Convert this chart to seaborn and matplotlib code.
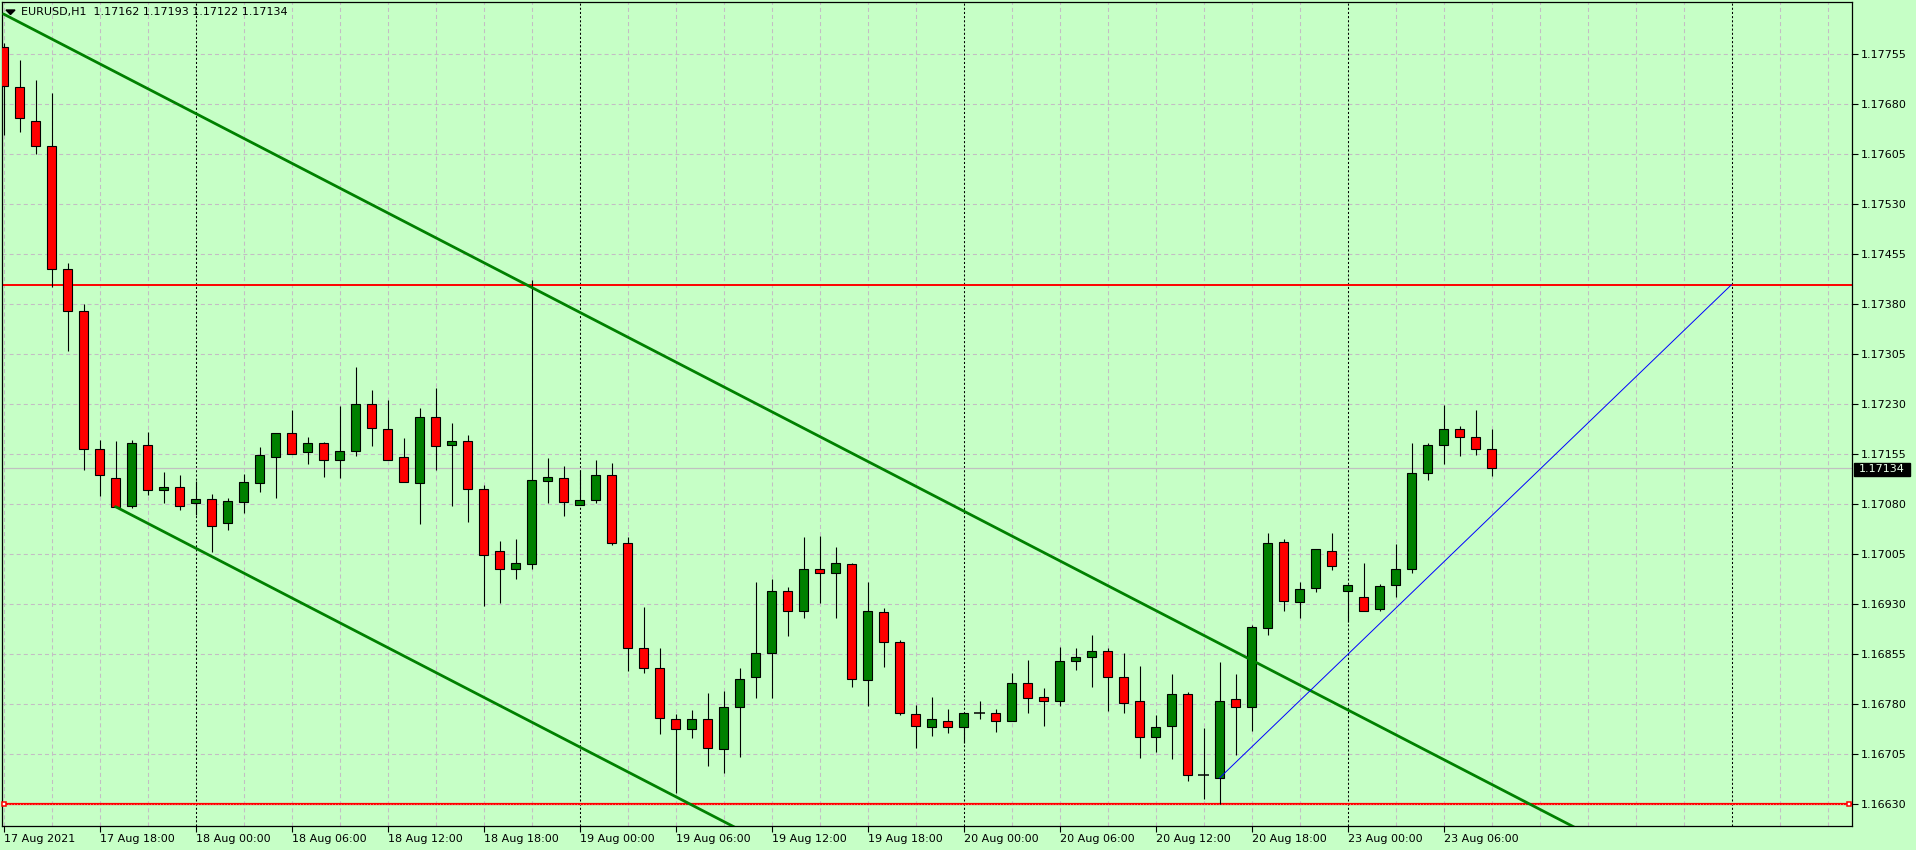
import matplotlib
matplotlib.use("Agg")
import matplotlib.pyplot as plt
from matplotlib.patches import Rectangle, Polygon
import seaborn as sns
import numpy as np
import pandas as pd

# ---------------- data (EURUSD H1, bar 0 = 17 Aug 2021 12:00) ----------------
opens = [1.17766, 1.17706, 1.17654, 1.17617, 1.17433, 1.17370, 1.17162, 1.17119, 1.17077, 1.17168,
         1.17101, 1.17106, 1.17081, 1.17087, 1.17051, 1.17083, 1.17111, 1.17151, 1.17186, 1.17158,
         1.17171, 1.17146, 1.17160, 1.17230, 1.17192, 1.17151, 1.17112, 1.17210, 1.17168, 1.17174,
         1.17103, 1.17009, 1.16983, 1.16990, 1.17114, 1.17119, 1.17078, 1.17086, 1.17123, 1.17021,
         1.16864, 1.16834, 1.16757, 1.16742, 1.16757, 1.16713, 1.16776, 1.16821, 1.16857, 1.16949,
         1.16920, 1.16983, 1.16977, 1.16990, 1.16816, 1.16918, 1.16873, 1.16765, 1.16745, 1.16755,
         1.16745, 1.16766, 1.16766, 1.16754, 1.16812, 1.16790, 1.16785, 1.16845, 1.16851, 1.16859,
         1.16821, 1.16784, 1.16731, 1.16747, 1.16795, 1.16673, 1.16669, 1.16787, 1.16775, 1.16894,
         1.17023, 1.16933, 1.16954, 1.17009, 1.16949, 1.16940, 1.16923, 1.16958, 1.16983, 1.17126,
         1.17168, 1.17192, 1.17180, 1.17162]
highs = [1.17772, 1.17746, 1.17716, 1.17696, 1.17441, 1.17380, 1.17176, 1.17175, 1.17176, 1.17188,
         1.17128, 1.17124, 1.17114, 1.17095, 1.17089, 1.17125, 1.17166, 1.17186, 1.17221, 1.17181,
         1.17173, 1.17227, 1.17286, 1.17251, 1.17236, 1.17179, 1.17224, 1.17254, 1.17201, 1.17183,
         1.17108, 1.17024, 1.17027, 1.17416, 1.17149, 1.17137, 1.17131, 1.17146, 1.17141, 1.17030,
         1.16925, 1.16864, 1.16765, 1.16771, 1.16797, 1.16799, 1.16834, 1.16963, 1.16968, 1.16955,
         1.17031, 1.17032, 1.17015, 1.16992, 1.16963, 1.16924, 1.16876, 1.16779, 1.16791, 1.16773,
         1.16766, 1.16785, 1.16772, 1.16827, 1.16846, 1.16804, 1.16866, 1.16864, 1.16883, 1.16864,
         1.16856, 1.16837, 1.16764, 1.16825, 1.16798, 1.16744, 1.16843, 1.16825, 1.16898, 1.17036,
         1.17027, 1.16963, 1.17012, 1.17036, 1.16958, 1.16991, 1.16960, 1.17020, 1.17171, 1.17171,
         1.17229, 1.17197, 1.17221, 1.17193]
lows = [1.17634, 1.17638, 1.17605, 1.17405, 1.17310, 1.17131, 1.17092, 1.17076, 1.17074, 1.17093,
        1.17082, 1.17071, 1.17064, 1.17008, 1.17041, 1.17067, 1.17098, 1.17089, 1.17155, 1.17140,
        1.17121, 1.17119, 1.17152, 1.17167, 1.17146, 1.17113, 1.17050, 1.17131, 1.17077, 1.17053,
        1.16927, 1.16932, 1.16968, 1.16983, 1.17081, 1.17062, 1.17078, 1.17081, 1.17019, 1.16830,
        1.16827, 1.16735, 1.16647, 1.16729, 1.16687, 1.16677, 1.16701, 1.16789, 1.16789, 1.16882,
        1.16909, 1.16932, 1.16909, 1.16806, 1.16777, 1.16836, 1.16763, 1.16714, 1.16732, 1.16737,
        1.16722, 1.16757, 1.16738, 1.16754, 1.16766, 1.16747, 1.16777, 1.16831, 1.16805, 1.16770,
        1.16766, 1.16699, 1.16708, 1.16697, 1.16664, 1.16638, 1.16630, 1.16703, 1.16740, 1.16883,
        1.16919, 1.16909, 1.16948, 1.16981, 1.16903, 1.16919, 1.16919, 1.16941, 1.16977, 1.17116,
        1.17140, 1.17152, 1.17154, 1.17122]
closes = [1.17707, 1.17659, 1.17617, 1.17432, 1.17370, 1.17163, 1.17123, 1.17076, 1.17171, 1.17101,
          1.17106, 1.17077, 1.17087, 1.17047, 1.17084, 1.17113, 1.17153, 1.17186, 1.17155, 1.17172,
          1.17146, 1.17159, 1.17230, 1.17194, 1.17146, 1.17113, 1.17210, 1.17167, 1.17174, 1.17103,
          1.17004, 1.16983, 1.16991, 1.17116, 1.17120, 1.17083, 1.17086, 1.17123, 1.17021, 1.16864,
          1.16834, 1.16759, 1.16742, 1.16757, 1.16714, 1.16776, 1.16818, 1.16857, 1.16950, 1.16920,
          1.16983, 1.16976, 1.16992, 1.16817, 1.16919, 1.16873, 1.16766, 1.16747, 1.16757, 1.16745,
          1.16766, 1.16766, 1.16754, 1.16812, 1.16789, 1.16784, 1.16845, 1.16851, 1.16859, 1.16821,
          1.16782, 1.16731, 1.16745, 1.16795, 1.16673, 1.16673, 1.16785, 1.16776, 1.16895, 1.17021,
          1.16934, 1.16952, 1.17012, 1.16987, 1.16958, 1.16920, 1.16957, 1.16983, 1.17126, 1.17168,
          1.17192, 1.17180, 1.17163, 1.17134]

time_labels = ["17 Aug 2021", "17 Aug 18:00", "18 Aug 00:00", "18 Aug 06:00", "18 Aug 12:00",
               "18 Aug 18:00", "19 Aug 00:00", "19 Aug 06:00", "19 Aug 12:00", "19 Aug 18:00",
               "20 Aug 00:00", "20 Aug 06:00", "20 Aug 12:00", "20 Aug 18:00", "23 Aug 00:00",
               "23 Aug 06:00"]
time_label_bars = [0, 6, 12, 18, 24, 30, 36, 42, 48, 54, 60, 66, 72, 78, 84, 90]
day_separator_bars = [12, 36, 60, 84, 108]
price_ticks = [1.16630, 1.16705, 1.16780, 1.16855, 1.16930, 1.17005, 1.17080, 1.17155,
               1.17230, 1.17305, 1.17380, 1.17455, 1.17530, 1.17605, 1.17680, 1.17755]

upper_trend_bars = [0, 33]
upper_trend_prices = [1.17815, 1.17405]
lower_trend_bars = [7]
lower_trend_prices = [1.17076]
blue_line_bars = [76, 108]
blue_line_prices = [1.16669, 1.17409]
resistance_level = 1.17409
support_level = 1.16630
last_price = 1.17134
header_text = "EURUSD,H1  1.17162 1.17193 1.17122 1.17134"

# ---------------- style ----------------
W, H = 1916, 850
BG = "#C6FFC6"
GRID = "#C4BCC4"
sns.set_theme(style="white")
plt.rcParams["font.family"] = ["DejaVu Sans"]
plt.rcParams["font.size"] = 8
plt.rcParams["lines.scale_dashes"] = False

fig = plt.figure(figsize=(W / 100, H / 100), dpi=100, facecolor=BG)
ax = fig.add_axes([2 / W, 24 / H, 1850 / W, 824 / H])
ax.set_facecolor(BG)

n = len(opens)
bars = np.arange(n)
xmin, xmax = (2 - 3.5) / 16, (1852 - 3.5) / 16
ymin, ymax = 1.16597, 1.17833
ax.set_xlim(xmin, xmax)
ax.set_ylim(ymin, ymax)

# grid
GRID_DASH = (0, (2.9, 2.2))
for p in price_ticks:
    ax.axhline(p, color=GRID, lw=0.75, ls=GRID_DASH, zorder=0)
for b in range(0, 117, 3):
    if b not in day_separator_bars:
        ax.axvline(b, color=GRID, lw=0.75, ls=GRID_DASH, zorder=0)
for b in day_separator_bars:
    ax.axvline(b, color="black", lw=0.75, ls=(0, (1.5, 1.5)), zorder=1)

# current price line
ax.axhline(last_price, color="#C0C0C0", lw=0.9, zorder=1)

# resistance & support
ax.axhline(resistance_level, color="#FF0000", lw=1.4, zorder=2)
ax.axhline(support_level, color="#FF0000", lw=1.6, zorder=2)
ax.axhline(support_level, color="#FF9A9A", lw=0.5, ls=(0, (0.7, 1.4)), zorder=2)
ax.plot([xmin + 0.14, xmax - 0.17], [support_level, support_level], ls="none", marker="s",
        ms=3.5, mfc="white", mec="#FF0000", mew=1.1, zorder=3, clip_on=False)

# candles
df = pd.DataFrame({"bar": bars, "open": opens, "high": highs, "low": lows, "close": closes})
ax.vlines(df["bar"], df["low"], df["high"], color="black", lw=0.8, zorder=4)
body = df[df["open"] != df["close"]]
body_colors = np.where(body["close"] > body["open"], "#008000", "#FF0000")
ax.bar(body["bar"], (body["close"] - body["open"]).abs(),
       bottom=np.minimum(body["open"], body["close"]), width=0.62,
       color=body_colors, edgecolor="black", linewidth=0.8, zorder=5)
doji = df[df["open"] == df["close"]]
ax.hlines(doji["open"], doji["bar"] - 0.33, doji["bar"] + 0.33, color="black", lw=1.1, zorder=5)

# trend lines (rays to the right)
slope = (upper_trend_prices[1] - upper_trend_prices[0]) / (upper_trend_bars[1] - upper_trend_bars[0])
ux = [upper_trend_bars[0], 120]
uy = [upper_trend_prices[0], upper_trend_prices[0] + slope * (120 - upper_trend_bars[0])]
sns.lineplot(x=ux, y=uy, ax=ax, color="#008000", linewidth=2.0, zorder=6)
lx = [lower_trend_bars[0], 120]
ly = [lower_trend_prices[0], lower_trend_prices[0] + slope * (120 - lower_trend_bars[0])]
sns.lineplot(x=lx, y=ly, ax=ax, color="#008000", linewidth=2.0, zorder=6)
sns.lineplot(x=blue_line_bars, y=blue_line_prices, ax=ax, color="#0000FF", linewidth=0.7, zorder=6)

# axes / ticks
for s in ax.spines.values():
    s.set_color("black")
    s.set_linewidth(0.9)
ax.yaxis.tick_right()
ax.set_yticks(price_ticks)
ax.set_yticklabels([f"{p:.5f}" for p in price_ticks])
ax.set_xticks(time_label_bars)
ax.set_xticklabels(time_labels, ha="left")
ax.tick_params(axis="y", which="both", direction="out", length=4, width=0.8, pad=2,
               colors="black", labelsize=8, right=True, left=False)
ax.tick_params(axis="x", which="both", direction="out", length=4, width=0.8, pad=1.5,
               colors="black", labelsize=8, bottom=True)
ax.set_xlabel("")
ax.set_ylabel("")
ax.grid(False)

# header
fig.text(21 / W, 1 - 12.5 / H, header_text, ha="left", va="center", fontsize=8, color="black")
fig.patches.append(Polygon([[6 / W, 1 - 10 / H], [15 / W, 1 - 10 / H], [10.5 / W, 1 - 14.5 / H]],
                           closed=True, transform=fig.transFigure, color="black"))

# current price box
fig.patches.append(Rectangle((1854 / W, 1 - 476 / H), 56 / W, 13.5 / H,
                             transform=fig.transFigure, color="black", zorder=10))
fig.text(1859 / W, 1 - 469.5 / H, f"{last_price:.5f}", ha="left", va="center", fontsize=8,
         color="#E8FFE8", zorder=11)

fig.savefig("out.png", dpi=100, facecolor=BG)
